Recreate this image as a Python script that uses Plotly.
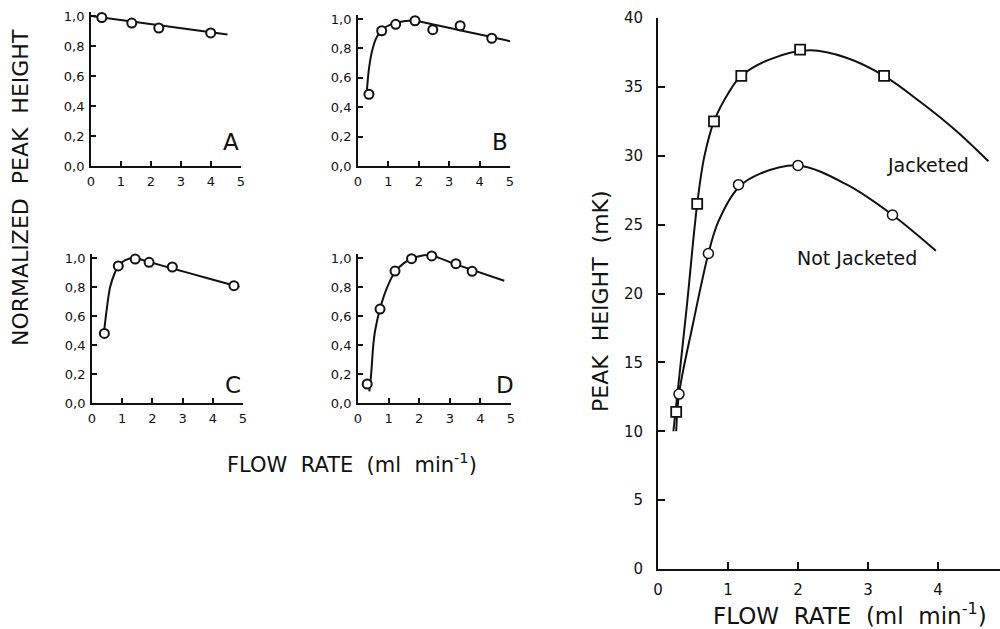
import plotly.graph_objects as go

W, H = 1000, 629

# ---------------- data ----------------
# Panel A
a_x = [0.36, 1.36, 2.26, 3.99]
a_y = [0.99, 0.953, 0.92, 0.887]
a_fit_x = [0.0, 4.55]
a_fit_y = [1.0, 0.877]

# Panel B
b_x = [0.36, 0.78, 1.24, 1.875, 2.46, 3.36, 4.40]
b_y = [0.488, 0.92, 0.964, 0.988, 0.927, 0.954, 0.869]
b_fit_x = [0.29, 0.36, 0.46, 0.6, 0.78, 1.1, 1.5, 1.85, 2.6, 3.5, 4.4, 5.05]
b_fit_y = [0.51, 0.66, 0.78, 0.87, 0.925, 0.965, 0.985, 0.99, 0.957, 0.917, 0.877, 0.846]

# Panel C
c_x = [0.41, 0.87, 1.43, 1.89, 2.66, 4.70]
c_y = [0.48, 0.945, 0.993, 0.97, 0.938, 0.809]
c_fit_x = [0.41, 0.46, 0.6, 0.76, 0.87, 1.1, 1.4, 1.9, 2.66, 3.8, 4.88]
c_fit_y = [0.51, 0.6, 0.8, 0.9, 0.945, 0.985, 1.0, 0.972, 0.928, 0.862, 0.80]

# Panel D
d_x = [0.30, 0.72, 1.21, 1.75, 2.41, 3.20, 3.73]
d_y = [0.131, 0.648, 0.91, 0.995, 1.014, 0.961, 0.908]
d_fit_x = [0.37, 0.43, 0.5, 0.56, 0.72, 0.94, 1.21, 1.5, 1.75, 2.3, 3.2, 4.78]
d_fit_y = [0.08, 0.2, 0.4, 0.5, 0.65, 0.79, 0.905, 0.965, 0.995, 1.02, 0.956, 0.843]

# Right panel
jack_x = [0.26, 0.56, 0.80, 1.19, 2.03, 3.23]
jack_y = [11.4, 26.5, 32.5, 35.8, 37.7, 35.8]
jack_fit_x = [0.22, 0.41, 0.56, 0.66, 0.80, 1.0, 1.19, 1.6, 2.17, 2.7, 3.23, 3.75, 4.25, 4.72]
jack_fit_y = [10.0, 19.0, 26.5, 29.9, 32.5, 34.5, 35.8, 37.0, 37.65, 37.1, 35.8, 33.9, 31.85, 29.6]

notj_x = [0.30, 0.72, 1.15, 2.0, 3.35]
notj_y = [12.7, 22.9, 27.9, 29.3, 25.7]
notj_fit_x = [0.26, 0.30, 0.50, 0.72, 0.86, 1.15, 1.46, 2.0, 2.7, 3.35, 3.97]
notj_fit_y = [10.0, 12.7, 17.8, 22.9, 25.2, 27.7, 28.7, 29.3, 27.9, 25.7, 23.1]

small_xticks = [0, 1, 2, 3, 4, 5]
small_xtext = ["0", "1", "2", "3", "4", "5"]
small_yticks = [0.0, 0.2, 0.4, 0.6, 0.8, 1.0]
small_ytext = ["0,0", "0,2", "0,4", "0,6", "0,8", "1,0"]
big_xticks = [0, 1, 2, 3, 4]
big_yticks = [0, 5, 10, 15, 20, 25, 30, 35, 40]

panel_labels = ["A", "B", "C", "D"]

# ---------------- figure ----------------
FONT = "DejaVu Sans"
INK = "#111111"

def px_x(p):
    return p / W

def px_y(p):
    return 1 - p / H

fig = go.Figure()

panels = [
    (a_x, a_y, a_fit_x, a_fit_y, "linear"),
    (b_x, b_y, b_fit_x, b_fit_y, "spline"),
    (c_x, c_y, c_fit_x, c_fit_y, "spline"),
    (d_x, d_y, d_fit_x, d_fit_y, "spline"),
]
for i, (px_, py_, fx, fy, shape) in enumerate(panels):
    ax = "" if i == 0 else str(i + 1)
    fig.add_trace(go.Scatter(x=fx, y=fy, mode="lines",
                             line=dict(color=INK, width=2, shape=shape, smoothing=0.8),
                             xaxis="x" + ax, yaxis="y" + ax, showlegend=False,
                             hoverinfo="skip"))
    fig.add_trace(go.Scatter(x=px_, y=py_, mode="markers",
                             marker=dict(symbol="circle", size=9, color="white",
                                         line=dict(color=INK, width=2)),
                             xaxis="x" + ax, yaxis="y" + ax, showlegend=False,
                             cliponaxis=False))

fig.add_trace(go.Scatter(x=jack_fit_x, y=jack_fit_y, mode="lines",
                         line=dict(color=INK, width=2, shape="spline", smoothing=1.0),
                         xaxis="x5", yaxis="y5", showlegend=False))
fig.add_trace(go.Scatter(x=notj_fit_x, y=notj_fit_y, mode="lines",
                         line=dict(color=INK, width=2, shape="spline", smoothing=1.0),
                         xaxis="x5", yaxis="y5", showlegend=False))
fig.add_trace(go.Scatter(x=jack_x, y=jack_y, mode="markers",
                         marker=dict(symbol="square", size=10, color="white",
                                     line=dict(color=INK, width=1.8)),
                         xaxis="x5", yaxis="y5", showlegend=False, cliponaxis=False))
fig.add_trace(go.Scatter(x=notj_x, y=notj_y, mode="markers",
                         marker=dict(symbol="circle", size=10, color="white",
                                     line=dict(color=INK, width=1.5)),
                         xaxis="x5", yaxis="y5", showlegend=False, cliponaxis=False))

# domains (pixel based)
small_dom = [
    ((91, 241), (166, 16)),
    ((358, 510), (166, 19)),
    ((92, 243), (403, 258)),
    ((358, 511), (403, 258)),
]
YTOP = 1.03

def small_axes(i):
    (x0, x1), (y0, y1) = small_dom[i]
    ytop_px = y0 - (y0 - y1) * YTOP
    xa = dict(domain=[px_x(x0), px_x(x1)], range=[0, 5], showgrid=False, zeroline=False,
              showline=True, linecolor=INK, linewidth=1.8, ticks="inside", ticklen=5,
              tickwidth=1.5, tickcolor=INK, tickvals=small_xticks, ticktext=small_xtext,
              tickfont=dict(family=FONT, size=13, color=INK), ticklabelstandoff=2,
              anchor="y" + ("" if i == 0 else str(i + 1)), fixedrange=True,
              automargin=False)
    ya = dict(domain=[px_y(y0), px_y(ytop_px)], range=[0, YTOP], showgrid=False, zeroline=False,
              showline=True, linecolor=INK, linewidth=1.8, ticks="inside", ticklen=5,
              tickwidth=1.5, tickcolor=INK, tickvals=small_yticks, ticktext=small_ytext,
              tickfont=dict(family=FONT, size=13, color=INK), ticklabelstandoff=2,
              anchor="x" + ("" if i == 0 else str(i + 1)), fixedrange=True,
              automargin=False)
    return xa, ya

layout = dict(width=W, height=H, margin=dict(l=0, r=0, t=0, b=0, autoexpand=False),
              paper_bgcolor="white", plot_bgcolor="white", showlegend=False)
for i in range(4):
    xa, ya = small_axes(i)
    key = "" if i == 0 else str(i + 1)
    layout["xaxis" + key] = xa
    layout["yaxis" + key] = ya

# right panel: x 0 at 658px, 70 px/unit; y 0 at 569px, 40 at 18px
layout["xaxis5"] = dict(domain=[px_x(658), 1.0], range=[0, (1000 - 658) / 70.0],
                        showgrid=False, zeroline=False, showline=True, linecolor=INK,
                        linewidth=2, ticks="inside", ticklen=7, tickwidth=1.8, tickcolor=INK,
                        tickvals=big_xticks, tickfont=dict(family=FONT, size=15, color=INK),
                        ticklabelstandoff=6, anchor="y5", fixedrange=True, automargin=False)
layout["yaxis5"] = dict(domain=[px_y(569), px_y(18)], range=[0, 40],
                        showgrid=False, zeroline=False, showline=True, linecolor=INK,
                        linewidth=2, ticks="inside", ticklen=7, tickwidth=1.8, tickcolor=INK,
                        tickvals=big_yticks, tickfont=dict(family=FONT, size=15, color=INK),
                        ticklabelstandoff=10, anchor="x5", fixedrange=True, automargin=False)

fig.update_layout(**layout)

# panel letters
letter_pos = [(4.67, 0.16), (4.67, 0.16), (4.68, 0.124), (4.8, 0.124)]
for i, (lab, (lx, ly)) in enumerate(zip(panel_labels, letter_pos)):
    key = "" if i == 0 else str(i + 1)
    fig.add_annotation(x=lx, y=ly, xref="x" + key, yref="y" + key, text=lab,
                       xanchor="center", yanchor="middle",
                       showarrow=False, font=dict(family=FONT, size=23, color=INK))

fig.add_annotation(x=3.86, y=29.3, xref="x5", yref="y5", text="Jacketed",
                   xanchor="center", yanchor="middle",
                   showarrow=False, font=dict(family=FONT, size=19, color=INK))
fig.add_annotation(x=2.84, y=22.6, xref="x5", yref="y5", text="Not Jacketed",
                   xanchor="center", yanchor="middle",
                   showarrow=False, font=dict(family=FONT, size=19, color=INK))

# axis titles
def title(text, cx, cy, size, angle=0):
    fig.add_annotation(x=px_x(cx), y=px_y(cy), xref="paper", yref="paper",
                       xanchor="center", yanchor="middle", text=text, textangle=angle,
                       showarrow=False, font=dict(family=FONT, size=size, color=INK))

title("NORMALIZED&nbsp; PEAK&nbsp; HEIGHT", 21, 188, 22, -90)
title("FLOW&nbsp; RATE&nbsp; (ml&nbsp; min<sup>-1</sup>)", 352, 463, 21)
title("PEAK&nbsp; HEIGHT&nbsp; (mK)", 600, 301, 22, -90)
title("FLOW&nbsp; RATE&nbsp; (ml&nbsp; min<sup>-1</sup>)", 850, 614, 23)

fig.write_html("out.html", config={"displayModeBar": False},
               post_script="document.body.style.margin='0';document.body.style.padding='0';"
                           "document.body.style.overflow='hidden';")
